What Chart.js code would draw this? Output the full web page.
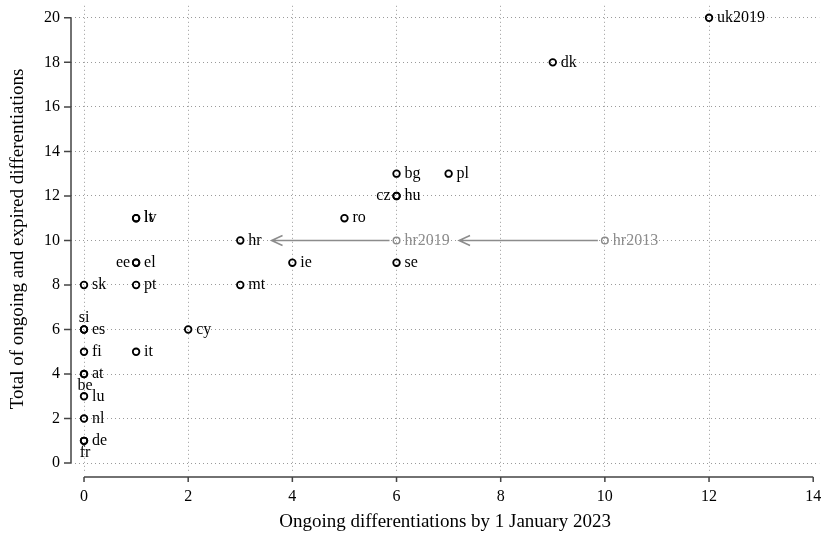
<!DOCTYPE html>
<html>
<head>
<meta charset="utf-8">
<script src="https://cdn.jsdelivr.net/npm/chart.js@4"></script>
<style>
  body { margin: 0; background: #fff; }
  canvas { display: block; }
</style>
</head>
<body>
<canvas id="diffChart" width="825" height="535"></canvas>
<script>
// member states: ongoing differentiations (x) vs total ongoing + expired (y)
var memberStates = ['uk2019', 'dk', 'bg', 'pl', 'cz', 'hu', 'lt', 'lv', 'ro', 'hr',
    'ee', 'el', 'ie', 'se', 'sk', 'pt', 'mt', 'si', 'es', 'cy',
    'fi', 'it', 'at', 'be', 'lu', 'nl', 'de', 'fr'];
var ongoing = [12, 9, 6, 7, 6, 6, 1, 1, 5, 3,
    1, 1, 4, 6, 0, 1, 3, 0, 0, 2,
    0, 1, 0, 0, 0, 0, 0, 0];
var total = [20, 18, 13, 13, 12, 12, 11, 11, 11, 10,
    9, 9, 9, 9, 8, 8, 8, 6, 6, 6,
    5, 5, 4, 4, 3, 2, 1, 1];
// where the label sits relative to the marker: r, l, t, b
var labelPosition = ['r', 'r', 'r', 'r', 'l', 'r', 'r', 'r', 'r', 'r',
    'l', 'r', 'r', 'r', 'r', 'r', 'r', 't', 'r', 'r',
    'r', 'r', 'r', 'b', 'r', 'r', 'r', 'b'];

// earlier positions of hr
var hrHistory = ['hr2013', 'hr2019'];
var hrOngoing = [10, 6];
var hrTotal = [10, 10];

// arrows hr2013 -> hr2019 -> hr
var arrowFromX = [10, 6];
var arrowToX = [7.2, 3.6];
var arrowY = [10, 10];

var xTicks = [0, 2, 4, 6, 8, 10, 12, 14];
var yTicks = [0, 2, 4, 6, 8, 10, 12, 14, 16, 18, 20];

var SERIF = '"Liberation Serif", "DejaVu Serif", serif';
var GREY = '#8c8c8c';

function toPoints(xs, ys) {
    return xs.map(function (x, i) { return { x: x, y: ys[i] }; });
}

var annotatePlugin = {
    id: 'annotate',
    afterDatasetsDraw: function (chart) {
        var ctx = chart.ctx;
        var xs = chart.scales.x;
        var ys = chart.scales.y;
        ctx.save();

        // axis lines with outward ticks
        ctx.strokeStyle = '#444';
        ctx.lineWidth = 1.5;
        var axisX = chart.chartArea.left;
        var axisY = chart.chartArea.bottom + 5;
        ctx.beginPath();
        ctx.moveTo(axisX, ys.getPixelForValue(yTicks[yTicks.length - 1]));
        ctx.lineTo(axisX, ys.getPixelForValue(yTicks[0]));
        yTicks.forEach(function (v) {
            var py = ys.getPixelForValue(v);
            ctx.moveTo(axisX - 7, py);
            ctx.lineTo(axisX, py);
        });
        ctx.moveTo(xs.getPixelForValue(xTicks[0]), axisY);
        ctx.lineTo(xs.getPixelForValue(xTicks[xTicks.length - 1]), axisY);
        xTicks.forEach(function (v) {
            var px = xs.getPixelForValue(v);
            ctx.moveTo(px, axisY);
            ctx.lineTo(px, axisY + 5);
        });
        ctx.stroke();

        // arrows
        ctx.strokeStyle = GREY;
        ctx.lineWidth = 1.5;
        arrowFromX.forEach(function (fx, i) {
            var x0 = xs.getPixelForValue(fx) - 7;
            var x1 = xs.getPixelForValue(arrowToX[i]);
            var py = ys.getPixelForValue(arrowY[i]);
            ctx.beginPath();
            ctx.moveTo(x0, py);
            ctx.lineTo(x1, py);
            ctx.moveTo(x1 + 11, py - 5);
            ctx.lineTo(x1, py);
            ctx.lineTo(x1 + 11, py + 5);
            ctx.stroke();
        });

        // marker labels
        ctx.font = '16px ' + SERIF;
        ctx.textBaseline = 'middle';
        function label(text, x, y, pos, color) {
            var px = xs.getPixelForValue(x);
            var py = ys.getPixelForValue(y);
            ctx.fillStyle = color;
            if (pos === 'l') { ctx.textAlign = 'right'; ctx.fillText(text, px - 6, py); }
            else if (pos === 't') { ctx.textAlign = 'center'; ctx.fillText(text, px, py - 12); }
            else if (pos === 'b') { ctx.textAlign = 'center'; ctx.fillText(text, px + 1, py + 12); }
            else { ctx.textAlign = 'left'; ctx.fillText(text, px + 8, py); }
        }
        memberStates.forEach(function (c, i) {
            label(c, ongoing[i], total[i], labelPosition[i], '#000');
        });
        hrHistory.forEach(function (c, i) {
            label(c, hrOngoing[i], hrTotal[i], 'r', GREY);
        });
        ctx.restore();
    }
};

function fixedTicks(list) {
    return function (scale) {
        scale.ticks = list.map(function (v) { return { value: v }; });
    };
}

var chartCanvas = document.getElementById('diffChart').getContext('2d');

var diffChart = new Chart(chartCanvas, {
    type: 'scatter',
    data: {
        datasets: [{
            data: toPoints(ongoing, total),
            pointRadius: 3.3,
            pointBorderWidth: 1.8,
            borderColor: '#000',
            backgroundColor: 'rgba(0,0,0,0)'
        }, {
            data: toPoints(hrOngoing, hrTotal),
            pointRadius: 3.3,
            pointBorderWidth: 1.5,
            borderColor: GREY,
            backgroundColor: 'rgba(0,0,0,0)'
        }]
    },
    options: {
        responsive: false,
        animation: false,
        layout: { padding: { top: 5, right: 0 } },
        plugins: {
            legend: { display: false },
            tooltip: { enabled: false }
        },
        scales: {
            x: {
                type: 'linear',
                min: -0.25,
                max: 14.115,
                afterBuildTicks: fixedTicks(xTicks),
                afterFit: function (s) {
                    s.height = 63;
                    s.paddingLeft = 0;
                    s.paddingRight = 0;
                },
                grid: {
                    drawTicks: false,
                    lineWidth: 1,
                    color: function (c) {
                        return c.tick && c.tick.value === 14 ? 'rgba(0,0,0,0)' : '#9a9a9a';
                    }
                },
                border: { display: false, dash: [1, 3] },
                ticks: {
                    padding: 15,
                    color: '#000',
                    font: { family: SERIF, size: 16 }
                },
                title: {
                    display: true,
                    text: 'Ongoing differentiations by 1 January 2023',
                    color: '#000',
                    font: { family: SERIF, size: 19 },
                    padding: { top: 0, bottom: 2 }
                }
            },
            y: {
                type: 'linear',
                min: -0.4,
                max: 20.54,
                afterBuildTicks: fixedTicks(yTicks),
                afterFit: function (s) {
                    s.width = 71;
                    s.paddingTop = 0;
                    s.paddingBottom = 0;
                },
                grid: {
                    drawTicks: false,
                    lineWidth: 1,
                    color: '#9a9a9a'
                },
                border: { display: false, dash: [1, 3] },
                ticks: {
                    padding: 11,
                    color: '#000',
                    font: { family: SERIF, size: 16 }
                },
                title: {
                    display: true,
                    text: 'Total of ongoing and expired differentiations',
                    color: '#000',
                    font: { family: SERIF, size: 19 },
                    padding: { top: 7, bottom: 0 }
                }
            }
        }
    },
    plugins: [annotatePlugin]
});
</script>
</body>
</html>
